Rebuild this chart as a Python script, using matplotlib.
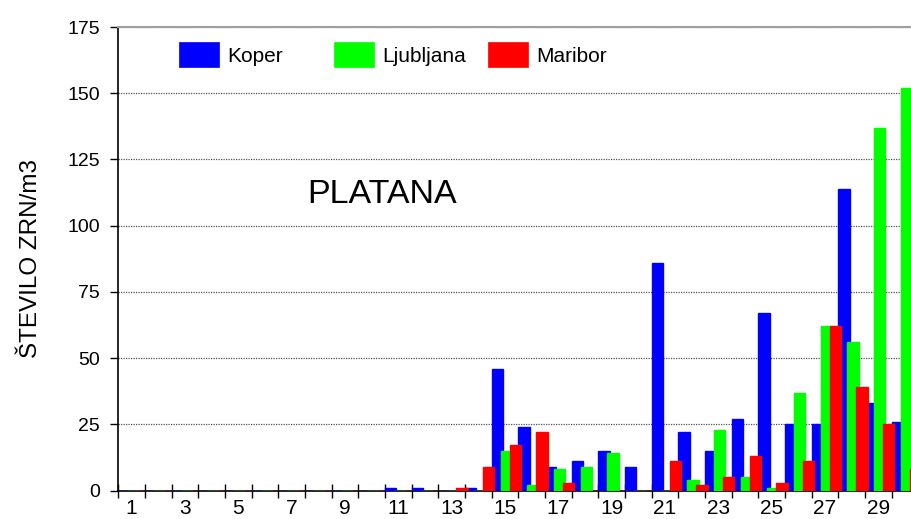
import numpy as np
import matplotlib
matplotlib.use("Agg")
import matplotlib.pyplot as plt
from matplotlib.patches import Rectangle

plt.rcParams['font.family'] = ['Liberation Sans', 'DejaVu Sans']

days = [1, 2, 3, 4, 5, 6, 7, 8, 9, 10, 11, 12, 13, 14, 15,
        16, 17, 18, 19, 20, 21, 22, 23, 24, 25, 26, 27, 28, 29, 30]
koper = [0, 0, 0, 0, 0, 0, 0, 0, 0, 0, 1, 1, 0, 1, 46,
         24, 9, 11, 15, 9, 86, 22, 15, 27, 67, 25, 25, 114, 33, 26]
ljubljana = [0, 0, 0, 0, 0, 0, 0, 0, 0, 0, 0, 0, 0, 0, 15,
             2, 8, 9, 14, 0, 0, 4, 23, 5, 1, 37, 62, 56, 137, 152]
maribor = [0, 0, 0, 0, 0, 0, 0, 0, 0, 0, 0, 0, 1, 9, 17,
           22, 3, 0, 0, 0, 11, 2, 5, 13, 3, 11, 62, 39, 25, 8]
names = ['Koper', 'Ljubljana', 'Maribor']
colors = ['#0000ff', '#00ff00', '#ff0000']
yticks = [0, 25, 50, 75, 100, 125, 150, 175]

W, H = 911, 519
fig = plt.figure(figsize=(W / 100, H / 100), dpi=100)
ax = fig.add_axes([118.3 / W, 28.5 / H, (W - 118.3) / W, (490.5 - 27) / H])

x = np.array(days, dtype=float)
offsets = [-0.2875, 0.05, 0.3875]
width = 0.424
for vals, off, c in zip([koper, ljubljana, maribor], offsets, colors):
    ax.bar(x + off, vals, width=width, color=c, edgecolor=c, linewidth=1.0, zorder=3)

ax.set_yticks(yticks)
ax.tick_params(axis='y', length=5.8, width=1, pad=7.5, labelsize=14, direction='out')
ax.set_xticks(days[::2])
ax.set_xticks(np.arange(0.5, 31, 1), minor=True)
ax.tick_params(axis='x', which='major', length=0, pad=6, labelsize=15)
ax.tick_params(axis='x', which='minor', length=10, width=1, direction='inout')

# the excel plot area runs past the right edge of the picture
ax.set_xlim(0.5, 0.5 + (W - 118.3) / 26.67)
ax.set_ylim(0, 175)

ax.grid(axis='y', color='#555555', linestyle=(0, (1, 1)), linewidth=0.9, zorder=1)
ax.set_axisbelow(True)

ax.spines['right'].set_visible(False)
ax.spines['top'].set_color('#a0a0a0')
ax.spines['top'].set_linewidth(1.5)
ax.spines['left'].set_linewidth(1.2)
ax.spines['bottom'].set_linewidth(1.2)

fig.text(31 / W, 1 - 259 / H, 'ŠTEVILO ZRN/m3', rotation=90, ha='center', va='center', fontsize=17.5)

ax.text((307.3 - 118.3) / (W - 118.3), (490.5 - 203.3) / (490.5 - 27), 'PLATANA',
        transform=ax.transAxes, fontsize=24.5, ha='left', va='baseline')

# legend drawn like the excel one (equal column widths)
leg_x = [179, 334, 488]
for lx, name, c in zip(leg_x, names, colors):
    fig.add_artist(Rectangle((lx / W, 1 - 66.7 / H), 40 / W, 25 / H,
                             transform=fig.transFigure, facecolor=c, edgecolor=c, lw=0.5))
    fig.text((lx + 48) / W, 1 - 61.7 / H, name, fontsize=15, ha='left', va='baseline')

fig.savefig('out.png', dpi=100)
